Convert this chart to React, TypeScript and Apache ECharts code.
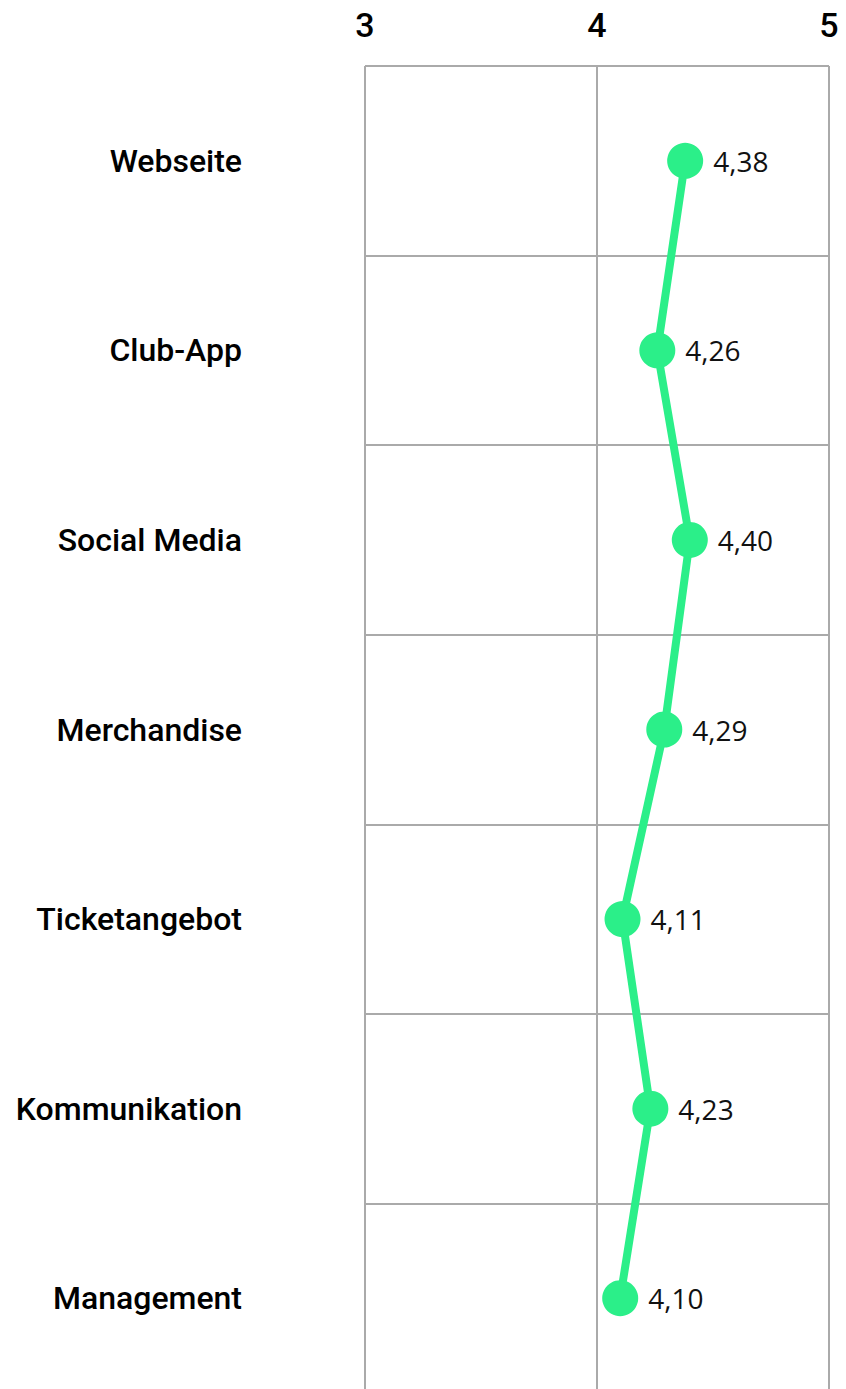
import React, { useEffect, useRef } from "react";
import * as echarts from "echarts";

const categories = [
  "Webseite",
  "Club-App",
  "Social Media",
  "Merchandise",
  "Ticketangebot",
  "Kommunikation",
  "Management",
];
const values = [4.38, 4.26, 4.4, 4.29, 4.11, 4.23, 4.1];
const axisMin = 3;
const axisMax = 5;
const axisInterval = 1;

const labelFont = "Roboto, 'Liberation Sans', sans-serif";
const valueFont = "'Open Sans', 'Noto Sans', sans-serif";

export default function App() {
  const ref = useRef<HTMLDivElement>(null);
  useEffect(() => {
    if (!ref.current) return;
    const chart = echarts.init(ref.current, undefined, { renderer: "svg" });
    chart.setOption({
      animation: false,
      backgroundColor: "#ffffff",
      grid: {
        left: 365,
        right: 17,
        top: 66,
        height: 1327,
        containLabel: false,
        outerBoundsMode: "none",
      },
      xAxis: {
        type: "value",
        position: "top",
        min: axisMin,
        max: axisMax,
        interval: axisInterval,
        axisLine: { show: false },
        axisTick: { show: false },
        axisLabel: {
          fontFamily: labelFont,
          fontWeight: 500,
          fontSize: 34,
          color: "#000",
          margin: 24,
        },
        splitLine: { show: true, lineStyle: { color: "#aaaaaa", width: 2 } },
      },
      yAxis: {
        type: "category",
        inverse: true,
        data: categories,
        boundaryGap: true,
        axisLine: { show: false },
        axisTick: { show: false },
        axisLabel: {
          fontFamily: labelFont,
          fontWeight: 500,
          fontSize: 32,
          color: "#000",
          margin: 123,
          align: "right",
        },
        splitLine: { show: true, lineStyle: { color: "#aaaaaa", width: 2 } },
      },
      series: [
        {
          type: "line",
          data: values,
          symbol: "circle",
          symbolSize: 36,
          itemStyle: { color: "#2BEF89" },
          lineStyle: { color: "#2BEF89", width: 8 },
          label: {
            show: true,
            position: "right",
            distance: 10,
            fontFamily: valueFont,
            fontSize: 28,
            color: "#111",
            formatter: (p: any) => Number(p.value).toFixed(2).replace(".", ","),
          },
        },
      ],
    });
    return () => chart.dispose();
  }, []);
  return (
    <div
      ref={ref}
      style={{ position: "absolute", left: 0, top: 0, width: 846, height: 1389 }}
    />
  );
}
